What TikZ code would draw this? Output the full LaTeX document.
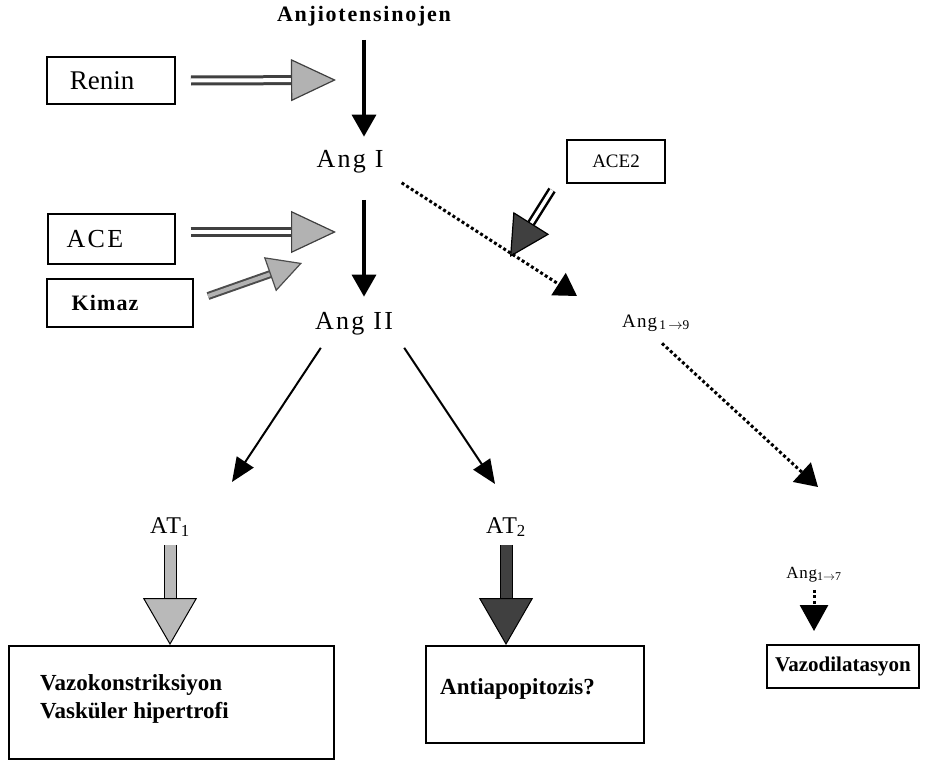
\documentclass[tikz,border=0pt]{standalone}
\usepackage{fontspec}
\setmainfont{Liberation Serif}
\usetikzlibrary{arrows.meta}
\begin{document}
\begin{tikzpicture}[x=1pt,y=-1pt,
  txt/.style={inner sep=0pt, anchor=base},
  big/.style={font=\fontsize{26}{30}\selectfont\addfontfeature{LetterSpace=9}},
  boldt/.style={font=\fontsize{23}{28}\selectfont\bfseries},
  box/.style={draw=black, line width=2pt, inner sep=0pt},
  blk/.style={line width=3.5pt, -{Triangle[length=22pt,width=24pt]}},
  diag/.style={line width=2pt, -{Triangle[length=24pt,width=20pt]}},
  dotarr/.style={line width=3pt, dash pattern=on 3pt off 2.5pt, -{Triangle[length=22pt,width=26pt]}},
  dblarr/.style={draw=black!75, line width=3pt, double=white, double distance=4pt,
     -{Triangle[length=45pt,width=42pt,fill=gray!60,line width=1.2pt]}},
  kimarr/.style={draw=black!70, line width=2pt, double=gray!60, double distance=4pt,
     -{Triangle[length=34pt,width=36pt,fill=gray!60,line width=1.2pt]}},
  ace2arr/.style={draw=black, line width=2.5pt, double=white, double distance=3.5pt,
     -{Triangle[length=40pt,width=42pt,fill=black!75,line width=1.2pt]}},
  atarr/.style={draw=black, line width=1pt, double=#1, double distance=11pt,
     -{Triangle[length=47pt,width=54pt,fill=#1,line width=1pt]}}
]
\useasboundingbox (0,0) rectangle (925,760);

% labels
\node[txt, font=\fontsize{22}{26}\selectfont\bfseries\addfontfeature{LetterSpace=8}] (anj) at (364,22) {Anjiotensinojen};
\node[txt, big] (a1) at (350,167) {Ang I};
\node[txt, big] (a2) at (354,329) {Ang II};
\node[txt, font=\fontsize{19}{22}\selectfont\addfontfeature{LetterSpace=6}] (a19) at (656,327) {Ang\textsubscript{\,1\,$\rightarrow$9}};
\node[txt, font=\fontsize{17}{20}\selectfont\addfontfeature{LetterSpace=4}] (a17) at (814,578) {Ang\textsubscript{1$\rightarrow$7}};
\node[txt, font=\fontsize{24}{28}\selectfont\addfontfeature{LetterSpace=6}] (at1) at (170,533) {AT\textsubscript{1}};
\node[txt, font=\fontsize{24}{28}\selectfont\addfontfeature{LetterSpace=6}] (at2) at (506,533) {AT\textsubscript{2}};

% enzyme boxes
\node[box, minimum width=128pt, minimum height=47pt, font=\fontsize{27}{30}\selectfont] (renin) at (111,80.5) {\hspace*{-18pt}Renin};
\node[box, minimum width=127pt, minimum height=50pt, big] (ace) at (111,239) {\hspace*{-32pt}ACE};
\node[box, minimum width=146pt, minimum height=48pt, font=\fontsize{22}{26}\selectfont\bfseries\addfontfeature{LetterSpace=5}] (kim) at (120,303) {\hspace*{-30pt}Kimaz};
\node[box, minimum width=98pt, minimum height=43pt, font=\fontsize{19}{22}\selectfont] (ace2) at (616,161.5) {ACE2};

% result boxes
\node[box, anchor=north west, minimum width=325pt, minimum height=113pt,
  label={[anchor=north west, xshift=32pt, yshift=-29pt, align=left, inner sep=0pt, boldt]north west:Vazokonstriksiyon\\Vasküler hipertrofi}] (b1) at (8,645) {};
\node[box, anchor=north west, minimum width=218pt, minimum height=97pt,
  label={[anchor=north west, xshift=15pt, yshift=-33pt, inner sep=0pt, boldt]north west:Antiapopitozis?}] (b2) at (425,645) {};
\node[box, minimum width=152pt, minimum height=43pt, font=\fontsize{21}{24}\selectfont\bfseries] (b3) at (843,666.5) {Vazodilatasyon};

% free ends
\coordinate (reninT) at (336,80);
\coordinate (aceT) at (336,232);
\coordinate (kimT) at (302,263);
\coordinate (ace2T) at (510,257);
\coordinate (a19T) at (577,296);
\coordinate (a17T) at (818,487);

% main chain
\draw[blk, shorten <=13pt, shorten >=13pt] (anj.south) -- (anj.south |- a1.north);
\draw[blk, shorten <=27pt, shorten >=15pt] (anj.south |- a1.south) -- (anj.south |- a2.north);

% enzyme arrows
\draw[dblarr] ([xshift=15pt]renin.east) -- (reninT);
\draw[dblarr] ([xshift=15pt,yshift=7pt]ace.east) -- (aceT);
\draw[kimarr] ([xshift=14pt,yshift=7pt]kim.east) -- (kimT);
\draw[ace2arr] ([xshift=-14pt,yshift=-6pt]ace2.south west) -- (ace2T);

% ACE2 pathway
\draw[dotarr] ([xshift=18pt,yshift=-10pt]a1.south east) -- (a19T);
\draw[dotarr] ([xshift=-28pt,yshift=-12pt]a19.south east) -- (a17T);
\draw[line width=3pt, dash pattern=on 3pt off 2.5pt, -{Triangle[length=26pt,width=28pt]},
  shorten <=8pt, shorten >=13pt] (a17.south) -- (a17.south |- b3.north);

% Ang II receptors
\draw[diag] ([xshift=6pt,yshift=-13pt]a2.south west) -- ([xshift=62pt,yshift=35pt]at1.north);
\draw[diag] ([xshift=11pt,yshift=-13pt]a2.south east) -- ([xshift=-11pt,yshift=33pt]at2.north);

\draw[atarr=gray!55, shorten <=8pt] (at1.south) -- (at1.south |- b1.north);
\draw[atarr=black!75, shorten <=8pt] (at2.south) -- (at2.south |- b2.north);
\end{tikzpicture}
\end{document}
